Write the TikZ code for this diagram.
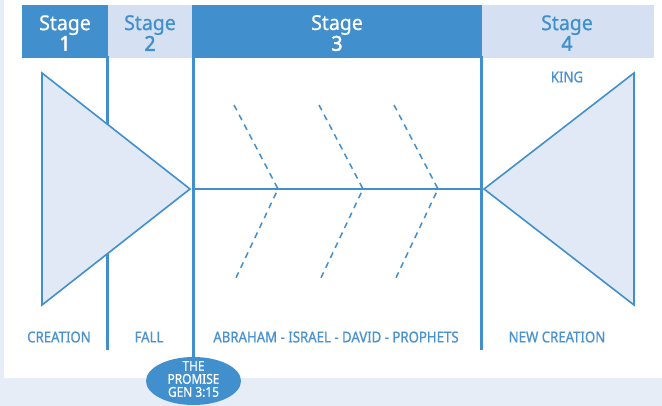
\documentclass[tikz,border=0pt]{standalone}
\usepackage{fontspec}
\setmainfont{Noto Sans}
\newfontfamily\cond[FakeStretch=0.88,FakeBold=0.7]{Noto Sans}
\newfontfamily\stg[FakeStretch=0.95,FakeBold=0.6]{Noto Sans}
\newfontfamily\stgnum[FakeStretch=0.95,FakeBold=2.2]{Noto Sans}
\usetikzlibrary{shapes.geometric}
\definecolor{dblue}{HTML}{4190CD}
\definecolor{lhead}{HTML}{D5E1F2}
\definecolor{tfill}{HTML}{E2E9F6}
\definecolor{bgc}{HTML}{E7EDF7}
\definecolor{ltext}{HTML}{4A92D0}
\newcommand{\stnum}[1]{{\stgnum #1}}
\begin{document}
\begin{tikzpicture}[x=1pt,y=-1pt,
  darkhead/.style={fill=dblue,draw=none},
  lighthead/.style={fill=lhead,draw=none},
  stagetxt/.style={align=center,font=\stg\fontsize{20.5}{19}\selectfont,inner sep=0pt},
  divider/.style={draw=dblue,line width=3pt},
  tri/.style={draw=dblue,fill=tfill,line width=1.6pt,line join=miter},
  spine/.style={draw=dblue,line width=2pt},
  bone/.style={draw=dblue,line width=1.5pt,dash pattern=on 6pt off 5pt},
  lbl/.style={text=ltext,font=\cond\fontsize{15}{15}\selectfont,inner sep=0pt}]
\useasboundingbox (0,0) rectangle (662,406);
\fill[bgc] (0,0) rectangle (662,406);
\fill[white] (4,0) rectangle (662,378);
% headers
\fill[darkhead] (22,5) rectangle (108,58);
\fill[lighthead] (108,5) rectangle (192,58);
\fill[darkhead] (192,5) rectangle (482,58);
\fill[lighthead] (482,5) rectangle (654,58);
\node[stagetxt,text=white] (s1) at (65,33) {Stage\\\stnum{1}};
\node[stagetxt,text=dblue] (s2) at (150,33) {Stage\\\stnum{2}};
\node[stagetxt,text=white] (s3) at (337,33) {Stage\\\stnum{3}};
\node[stagetxt,text=dblue] (s4) at (567,33) {Stage\\\stnum{4}};
% ellipse
\node[ellipse,fill=dblue,draw=none,minimum width=95pt,minimum height=48pt,inner sep=0pt] (promise) at (193.5,381) {};
\node[text=white,align=center,font=\cond\fontsize{13.5}{13}\selectfont,inner sep=0pt] (ptxt) at (193.5,379)
  {THE\\PROMISE\\GEN 3:15};
% dividers
\coordinate (d1t) at (107,56); \coordinate (d1b) at (107,350);
\coordinate (d2t) at (193.5,56);
\coordinate (d3t) at (481,56); \coordinate (d3b) at (481,350);
\draw[divider] (d1t) -- (d1b);
\draw[divider] (d2t) -- (promise.north);
\draw[divider] (d3t) -- (d3b);
% triangles
\draw[tri] (42,73) -- (190,189) -- (42,305) -- cycle;
\draw[tri] (634,73) -- (484,189) -- (634,305) -- cycle;
\coordinate (spL) at (193.5,189); \coordinate (spR) at (481,189);
\draw[spine] (spL) -- (spR);
% bones
\foreach \t/\x in {a/278,b/363,c/438}{
  \coordinate (\t tip) at (\x,189);
  \draw[bone] (\x-44,105) -- (\t tip) -- (\x-44,282);
}
% labels
\node[lbl] (king) at (567,77) {KING};
\node[lbl] (cre) at (59,337) {CREATION};
\node[lbl] (fall) at (149,337) {FALL};
\node[lbl] (abr) at (336,337) {ABRAHAM - ISRAEL - DAVID - PROPHETS};
\node[lbl] (newc) at (557,337) {NEW CREATION};
\end{tikzpicture}
\end{document}
